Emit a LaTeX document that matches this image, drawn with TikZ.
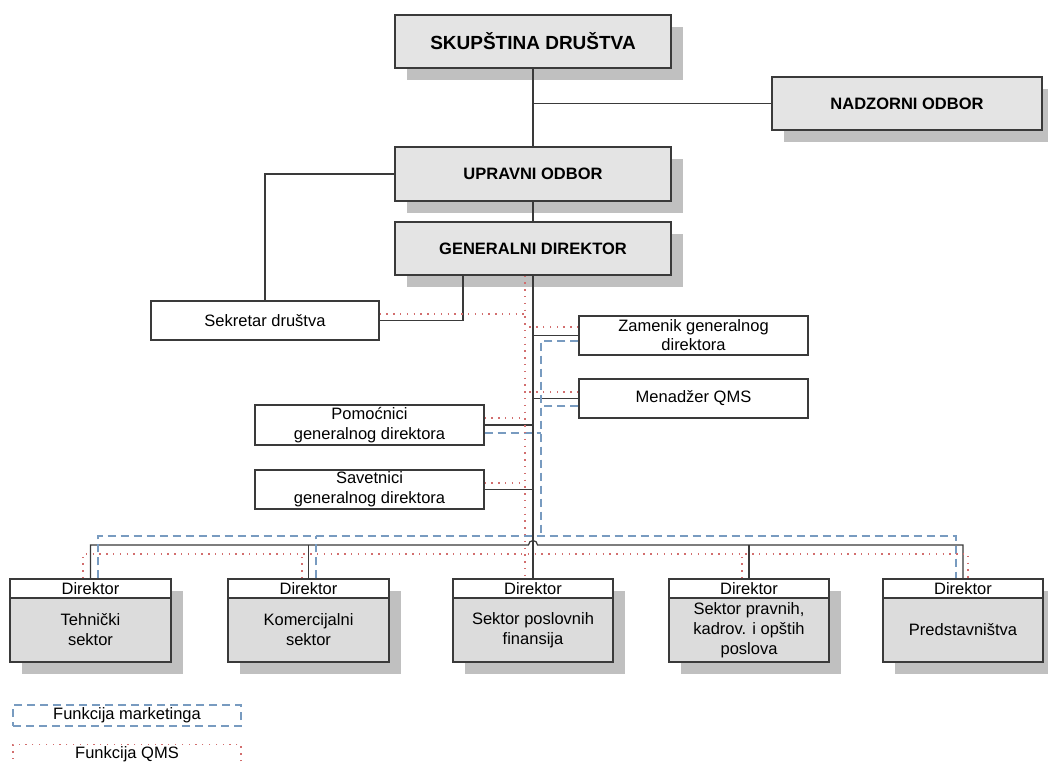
\documentclass[tikz,border=0pt]{standalone}
\usepackage{fontspec}
\setmainfont{Liberation Sans}
\usetikzlibrary{shadows}
\definecolor{boxfill}{RGB}{228,228,228}
\definecolor{bodyfill}{RGB}{220,220,220}
\definecolor{shadowc}{RGB}{192,192,192}
\definecolor{linec}{RGB}{58,58,58}
\definecolor{mktc}{RGB}{120,155,192}
\definecolor{qmsc}{RGB}{210,110,110}
\begin{document}
\begin{tikzpicture}[x=1pt,y=-1pt,
  shad/.style={drop shadow={shadow xshift=12pt,shadow yshift=-12pt,fill=shadowc,opacity=1}},
  topbox/.style={draw=linec,line width=1.3pt,fill=boxfill,shad,inner sep=0pt,
    minimum width=276pt,minimum height=53pt,font=\bfseries\fontsize{16.5}{20}\selectfont},
  midbox/.style={draw=linec,line width=1.3pt,fill=white,inner sep=0pt,align=center,
    minimum width=229pt,minimum height=39pt,font=\fontsize{16.5}{20}\selectfont},
  secbox/.style={draw=linec,line width=1.3pt,fill=bodyfill,shad,inner sep=0pt,
    minimum width=161pt,minimum height=83pt},
  hdrbox/.style={draw=linec,line width=1.3pt,fill=white,inner sep=0pt,
    minimum width=161pt,minimum height=19pt,font=\fontsize{16.5}{20}\selectfont},
  bodytxt/.style={inner sep=0pt,align=center,font=\fontsize{16.5}{20}\selectfont},
  conn/.style={draw=linec,line width=1.2pt},
  mkt/.style={draw=mktc,line width=1.3pt,dash pattern=on 8pt off 5pt},
  qms/.style={draw=qmsc,line width=1.3pt,dash pattern=on 1.3pt off 5.5pt},
  legtxt/.style={inner sep=0pt,font=\fontsize{16.5}{20}\selectfont}
]
\useasboundingbox (0,0) rectangle (1048,763);
\clip (0,0) rectangle (1048,763);
\fill[white] (0,0) rectangle (1048,763);

% top boxes
\node[topbox,font=\bfseries\fontsize{19}{22}\selectfont] (skup) at (533,41.5) {SKUPŠTINA DRUŠTVA};
\node[topbox,minimum width=270pt] (nadz) at (907,103.5) {NADZORNI ODBOR};
\node[topbox,minimum height=54pt] (upr) at (533,174) {UPRAVNI ODBOR};
\node[topbox] (gd) at (533,248.5) {GENERALNI DIREKTOR};

% middle boxes
\node[midbox,minimum width=228pt] (sek) at (265,320.5) {Sekretar društva};
\node[midbox,font=\fontsize{16.5}{19}\selectfont] (zam) at (693.5,335.5) {Zamenik generalnog\\direktora};
\node[midbox] (men) at (693.5,398.5) {Menadžer QMS};
\node[midbox,minimum height=40pt] (pom) at (369.5,425) {Pomoćnici\\generalnog direktora};
\node[midbox] (sav) at (369.5,489.5) {Savetnici\\generalnog direktora};

% sector boxes
\node[secbox] (b1) at (90.5,620.5) {};
\node[secbox] (b2) at (308.5,620.5) {};
\node[secbox,minimum width=160pt] (b3) at (533,620.5) {};
\node[secbox,minimum width=160pt] (b4) at (749,620.5) {};
\node[secbox,minimum width=160pt] (b5) at (963,620.5) {};
\node[hdrbox] (h1) at (90.5,588.5) {Direktor};
\node[hdrbox] (h2) at (308.5,588.5) {Direktor};
\node[hdrbox,minimum width=160pt] (h3) at (533,588.5) {Direktor};
\node[hdrbox,minimum width=160pt] (h4) at (749,588.5) {Direktor};
\node[hdrbox,minimum width=160pt] (h5) at (963,588.5) {Direktor};
\node[bodytxt] (t1) at (90.5,630) {Tehnički\\sektor};
\node[bodytxt] (t2) at (308.5,630) {Komercijalni\\sektor};
\node[bodytxt] (t3) at (533,630) {Sektor poslovnih\\finansija};
\node[bodytxt] (t4) at (749,630) {Sektor pravnih,\\kadrov. i opštih\\poslova};
\node[bodytxt] (t5) at (963,630) {Predstavništva};

% helper coordinates
\coordinate (xs) at (463,0);
\coordinate (bus) at (0,545);
\coordinate (mkbus) at (0,536);
\coordinate (qbus) at (0,554);
\coordinate (xr) at (525,0);
\coordinate (xb) at (541,0);

% solid connectors
\draw[conn] (skup.south) -- (upr.north);
\draw[conn] (nadz.west) -- (nadz.west -| skup.south);
\draw[conn] (upr.south) -- (gd.north);
\draw[conn] (upr.west) -| (sek.north);
\draw[conn] (gd.south -| xs) |- (sek.east);
\draw[conn] (gd.south) -- (b3.north);
\draw[conn] (zam.west) -- (zam.west -| gd.south);
\draw[conn] (men.west) -- (men.west -| gd.south);
\draw[conn] (pom.east) -- (pom.east -| gd.south);
\draw[conn] (sav.east) -- (sav.east -| gd.south);
\draw[conn] (b1.north) -- (b1.north |- bus) -- ([xshift=-4.5pt]gd.south |- bus)
   arc[start angle=180,end angle=0,radius=4.5pt] -- (b5.north |- bus) -- (b5.north);
\draw[conn] (b2.north) -- (b2.north |- bus);
\draw[conn] (b4.north) -- (b4.north |- bus);

% marketing function (blue dashed)
\draw[mkt] ([yshift=-5.5pt]zam.west) -| (xb |- mkbus);
\draw[mkt] ([yshift=-7.5pt]men.west) -- ([yshift=-7.5pt]men.west -| xb);
\draw[mkt] ([yshift=-8pt]pom.east) -- ([yshift=-8pt]pom.east -| xb);
\draw[mkt] ([xshift=7.5pt]b1.north) -- ([xshift=7.5pt]b1.north |- mkbus) -- ([xshift=-7pt]b5.north |- mkbus) -- ([xshift=-7pt]b5.north);
\draw[mkt] ([xshift=7.5pt]b2.north) -- ([xshift=7.5pt]b2.north |- mkbus);

% QMS function (red dotted)
\draw[qms] (gd.south -| xr) -- (b3.north -| xr);
\draw[qms] ([yshift=6.5pt]sek.east) -- ([yshift=6.5pt]sek.east -| xr);
\draw[qms] ([yshift=8.5pt]zam.west) -- ([yshift=8.5pt]zam.west -| xr);
\draw[qms] ([yshift=6.5pt]men.west) -- ([yshift=6.5pt]men.west -| xr);
\draw[qms] ([yshift=7pt]pom.east) -- ([yshift=7pt]pom.east -| xr);
\draw[qms] ([yshift=6.5pt]sav.east) -- ([yshift=6.5pt]sav.east -| xr);
\draw[qms] ([xshift=-7.5pt]b1.north) -- ([xshift=-7.5pt]b1.north |- qbus) -- ([xshift=5pt]b5.north |- qbus) -- ([xshift=5pt]b5.north);
\draw[qms] ([xshift=-6.5pt]b2.north) -- ([xshift=-6.5pt]b2.north |- qbus);
\draw[qms] ([xshift=-7pt]b4.north) -- ([xshift=-7pt]b4.north |- qbus);

% legend
\node[legtxt,draw=mktc,line width=1.3pt,dash pattern=on 8pt off 5pt,minimum width=228pt,minimum height=21pt] (lm) at (127,715.5) {Funkcija marketinga};
\node[legtxt,draw=qmsc,line width=1.3pt,dash pattern=on 1.3pt off 5.5pt,minimum width=228pt,minimum height=20pt] (lq) at (127,754.5) {Funkcija QMS};
\end{tikzpicture}
\end{document}
